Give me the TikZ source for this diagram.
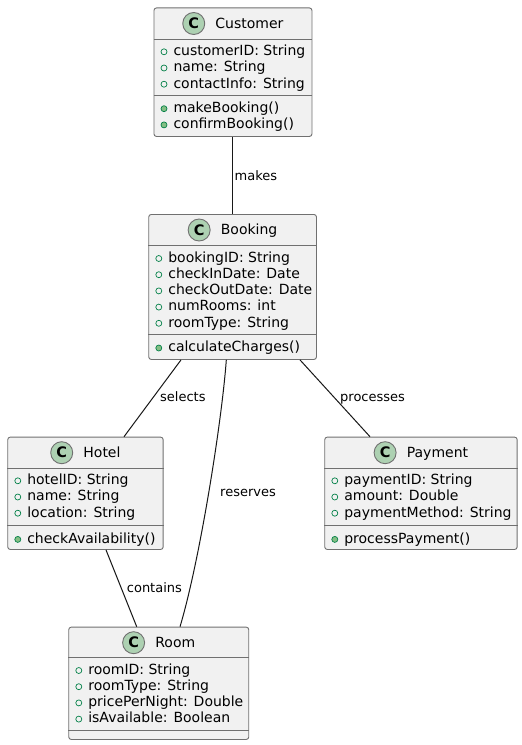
\documentclass[tikz,border=0pt]{standalone}
\usepackage{fontspec}
\setmainfont{DejaVu Sans}
\usetikzlibrary{calc}
\definecolor{boxfill}{HTML}{F1F1F1}
\definecolor{boxline}{HTML}{707070}
\definecolor{edgeline}{HTML}{181818}
\definecolor{iconfill}{HTML}{ADD1B2}
\definecolor{markline}{HTML}{038048}
\definecolor{markfill}{HTML}{84BE84}
\tikzset{
 classbox/.style={draw=boxline, fill=boxfill, line width=0.9bp, rounded corners=2.5bp, inner sep=0, anchor=north west},
 sepline/.style={draw=boxline, line width=0.9bp},
 icon/.style={circle, draw=boxline, fill=iconfill, line width=0.9bp, minimum size=22bp, inner sep=0, font=\fontsize{14.5bp}{14.5bp}\selectfont\bfseries},
 titletext/.style={inner sep=0, anchor=base, font=\fontsize{14bp}{16bp}\selectfont},
 membertext/.style={inner sep=0, anchor=base west, font=\fontsize{14bp}{16bp}\selectfont},
 fieldmark/.style={draw=markline, line width=0.7bp},
 methodmark/.style={draw=markline, fill=markfill, line width=0.7bp},
 assoc/.style={draw=edgeline, line width=1bp},
 assoclabel/.style={inner sep=0, anchor=base west, font=\fontsize{13bp}{15bp}\selectfont},
}
\newcommand\umlclass[8]{%
 \node[classbox, minimum width=#4bp, minimum height=#5bp] (#1) at (#2,#3) {};
 \draw[sepline] ($(#1.north west)+(0,#6)$) -- ($(#1.north east)+(0,#6)$);
 \draw[sepline] ($(#1.north west)+(0,#7)$) -- ($(#1.north east)+(0,#7)$);
 \node[titletext] (#1-title) at ($(#1.north)+(16.5,20.6)$) {#8};
 \node[icon] (#1-icon) at ($(#1-title.base west)+(-21.5,-4.6)$) {C};
}
\newcommand\umlmembers[5]{%
 \foreach \m [count=\i from 0] in {#5} {
   \draw[#3] ($(#1.north west)+(10.5,#2+16.2*\i-3.8)$) circle (3bp);
   \node[membertext] (#1-#4\i) at ($(#1.north west)+(19.8,#2+16.2*\i)$) {\m};
 }}
\begin{document}
\begin{tikzpicture}[x=1bp,y=-1bp]
\fill[white] (0,0) rectangle (522,745);
\useasboundingbox (0,0) rectangle (522,745);

\umlclass{customer}{153.5}{7.5}{158}{128.5}{31.5}{87.5}{Customer}
\umlmembers{customer}{48.1}{fieldmark}{f}{customerID: String,name: String,contactInfo: String}
\umlmembers{customer}{105}{methodmark}{m}{makeBooking(),confirmBooking()}

\umlclass{booking}{148.3}{214}{167.7}{145}{31.7}{120.3}{Booking}
\umlmembers{booking}{48.3}{fieldmark}{f}{bookingID: String,checkInDate: Date,checkOutDate: Date,numRooms: int,roomType: String}
\umlmembers{booking}{137.8}{methodmark}{m}{calculateCharges()}

\umlclass{hotel}{7.3}{436.7}{155.4}{112.3}{31.3}{89}{Hotel}
\umlmembers{hotel}{47.9}{fieldmark}{f}{hotelID: String,name: String,location: String}
\umlmembers{hotel}{106.5}{methodmark}{m}{checkAvailability()}

\umlclass{payment}{324.3}{436.7}{192.4}{112.3}{31.3}{89}{Payment}
\umlmembers{payment}{47.9}{fieldmark}{f}{paymentID: String,amount: Double,paymentMethod: String}
\umlmembers{payment}{106.5}{methodmark}{m}{processPayment()}

\umlclass{room}{68.3}{626.7}{180}{112.3}{31}{103.3}{Room}
\umlmembers{room}{47.6}{fieldmark}{f}{roomID: String,roomType: String,pricePerNight: Double,isAvailable: Boolean}

\draw[assoc] ($(customer.south west)+(78.8,0)$) -- ($(booking.north west)+(84,0)$);
\draw[assoc] ($(booking.south west)+(32.7,0)$) -- ($(hotel.north west)+(116.7,0)$);
\draw[assoc] ($(booking.south west)+(78,0)$) .. controls (222,420) and (200,560) .. ($(room.north west)+(111.7,0)$);
\draw[assoc] ($(booking.south west)+(151.7,0)$) -- ($(payment.north west)+(45.7,0)$);
\draw[assoc] ($(hotel.south west)+(98.7,0)$) -- ($(room.north west)+(68.4,0)$);

\node[assoclabel] (lmakes) at (234.5,180) {makes};
\node[assoclabel] (lselects) at (160,401.7) {selects};
\node[assoclabel] (lprocesses) at (340,401.7) {processes};
\node[assoclabel] (lreserves) at (220,496.7) {reserves};
\node[assoclabel] (lcontains) at (126.7,592.7) {contains};
\end{tikzpicture}
\end{document}
